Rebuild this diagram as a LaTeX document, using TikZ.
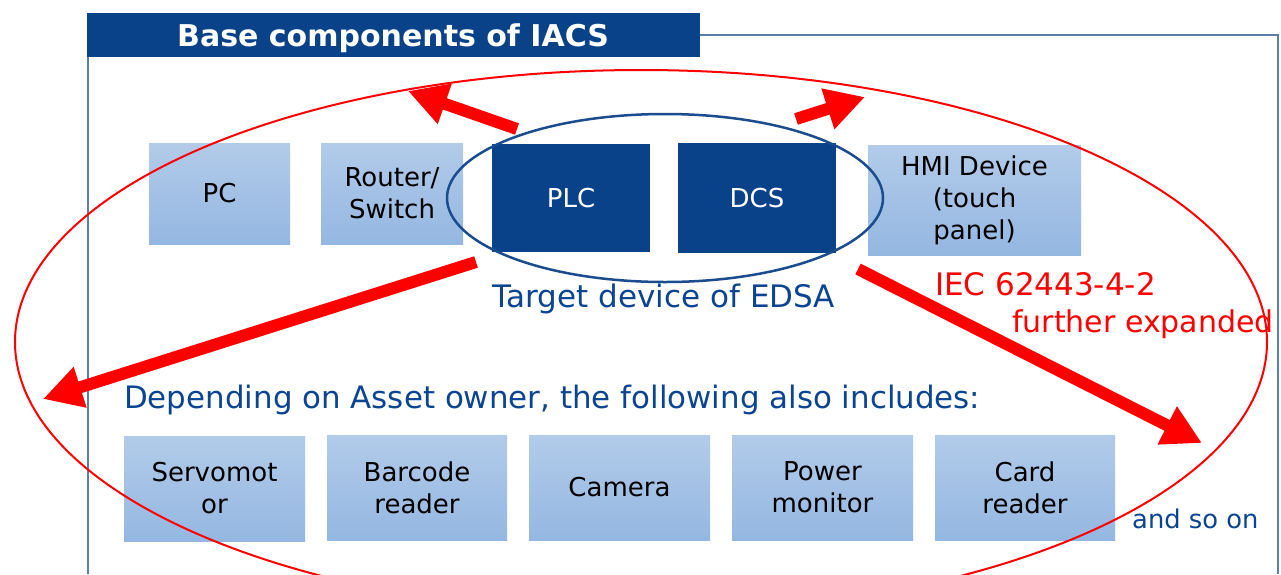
\documentclass[tikz,border=0pt]{standalone}
\usepackage{fontspec}
\setmainfont{DejaVu Sans}
\usetikzlibrary{arrows.meta}
\definecolor{darkblue}{HTML}{0A428A}
\definecolor{lighttop}{HTML}{B2CBE9}
\definecolor{lightbot}{HTML}{94B7E1}
\definecolor{frameblue}{HTML}{5A7FAA}
\definecolor{textblue}{HTML}{0B4591}
\definecolor{ellblue}{HTML}{1A4C8E}
\begin{document}
\begin{tikzpicture}[x=1pt,y=-1pt,
  lightbox/.style={rectangle, top color=lighttop, bottom color=lightbot, draw=none,
    align=center, font=\fontsize{26}{32}\selectfont, text=black, inner sep=0pt},
  darkbox/.style={rectangle, fill=darkblue, draw=none, text=white,
    font=\fontsize{26}{32}\selectfont, inner sep=0pt},
  bigarrow/.style={draw=red, line width=12pt, -{Triangle[length=39pt,width=40pt]}},
  bluetext/.style={text=textblue, inner sep=0pt},
  redtext/.style={text=red, inner sep=0pt, font=\fontsize{31}{36}\selectfont},
]
\useasboundingbox (0,0) rectangle (1281,574);
\fill[white] (0,0) rectangle (1281,574);

% frame
\draw[frameblue, line width=2pt] (700,35) -- (1278,35) -- (1278,574);
\draw[frameblue, line width=2pt] (88,57) -- (88,574);
\fill[darkblue] (87,13) rectangle (700,57);
\node[anchor=base west, text=white, inner sep=0pt, font=\fontsize{30}{34}\selectfont\bfseries] (title) at (177,46) {Base components of IACS};

% top row
\node[lightbox, minimum width=141pt, minimum height=101pt] (pc) at (219.5,193.5) {PC};
\node[lightbox, minimum width=142pt, minimum height=101pt] (router) at (392,193.5) {Router/\\Switch};
\node[darkbox, minimum width=158pt, minimum height=108pt] (plc) at (571,198) {PLC};
\node[darkbox, minimum width=158pt, minimum height=110pt] (dcs) at (757,198) {DCS};
\node[lightbox, minimum width=213pt, minimum height=110pt] (hmi) at (974.5,200) {HMI Device\\(touch\\panel)};

% bottom row
\node[lightbox, minimum width=181pt, minimum height=105pt] (servo) at (214.5,488.5) {Servomot\\or};
\node[lightbox, minimum width=180pt, minimum height=105pt] (barcode) at (417,487.5) {Barcode\\reader};
\node[lightbox, minimum width=181pt, minimum height=105pt] (camera) at (619.5,487.5) {Camera};
\node[lightbox, minimum width=181pt, minimum height=105pt] (power) at (822.5,487.5) {Power\\monitor};
\node[lightbox, minimum width=180pt, minimum height=105pt] (card) at (1025,487.5) {Card\\reader};

% texts
\node[bluetext, anchor=base, font=\fontsize{31}{36}\selectfont] (target) at (664,307) {Target device of EDSA};
\node[bluetext, anchor=base west, font=\fontsize{30.9}{36}\selectfont] (depend) at (124,408) {Depending on Asset owner, the following also includes:};
\node[bluetext, anchor=base west, font=\fontsize{25.8}{30}\selectfont] (soon) at (1132,528) {and so on};
\node[redtext, anchor=base west] (iec) at (935,295) {IEC 62443-4-2};
\node[redtext, anchor=base west, font=\fontsize{30}{36}\selectfont] (further) at (1012,332) {further expanded};

% ellipses
\draw[ellblue, line width=2.5pt] (665,198) ellipse [x radius=218, y radius=84];
\draw[red, line width=2pt] (641,342) ellipse [x radius=626, y radius=272];

% arrows
\coordinate (a1s) at (517,129);
\coordinate (a1e) at (408,91);
\coordinate (a2s) at (796,119);
\coordinate (a2e) at (865,97);
\coordinate (a3s) at (476,262);
\coordinate (a3e) at (43,399);
\coordinate (a4s) at (858,269);
\coordinate (a4e) at (1202,443);
\draw[bigarrow] (a1s) -- (a1e);
\draw[bigarrow] (a2s) -- (a2e);
\draw[bigarrow] (a3s) -- (a3e);
\draw[bigarrow] (a4s) -- (a4e);
\end{tikzpicture}
\end{document}
